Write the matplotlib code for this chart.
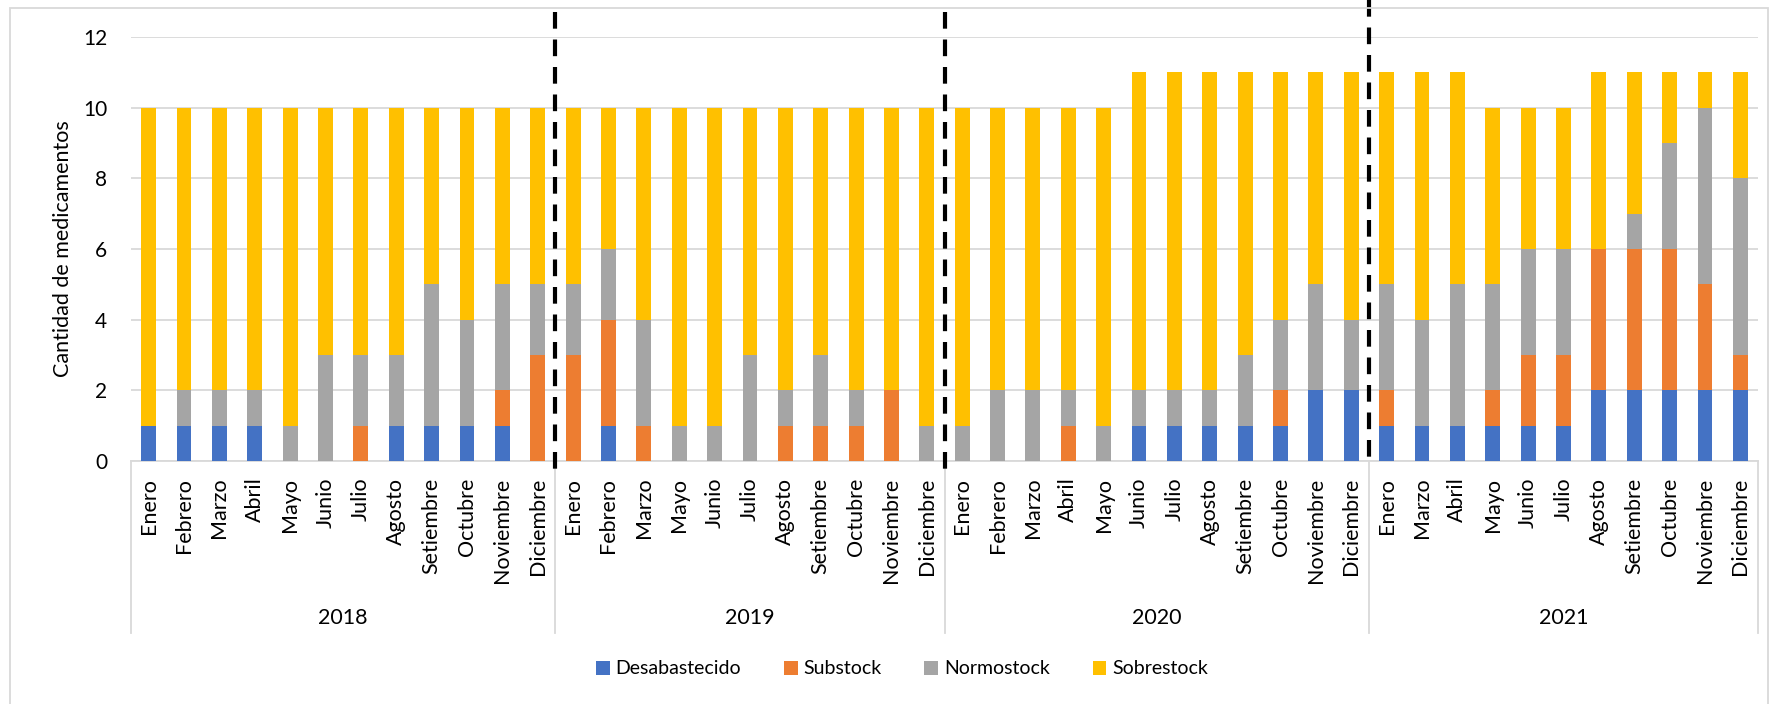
import matplotlib
matplotlib.use("Agg")
import matplotlib.pyplot as plt
import matplotlib.transforms as mtrans
from matplotlib.patches import Rectangle
import numpy as np

plt.rcParams['font.family'] = ['Lato', 'DejaVu Sans']

years = ['2018', '2019', '2020', '2021']
months_2018 = ['Enero', 'Febrero', 'Marzo', 'Abril', 'Mayo', 'Junio', 'Julio', 'Agosto',
               'Setiembre', 'Octubre', 'Noviembre', 'Diciembre']
months_2019 = ['Enero', 'Febrero', 'Marzo', 'Mayo', 'Junio', 'Julio', 'Agosto',
               'Setiembre', 'Octubre', 'Noviembre', 'Diciembre']
months_2020 = months_2018
months_2021 = ['Enero', 'Marzo', 'Abril', 'Mayo', 'Junio', 'Julio', 'Agosto',
               'Setiembre', 'Octubre', 'Noviembre', 'Diciembre']

# values per month, 2018 | 2019 | 2020 | 2021
desabastecido = [1, 1, 1, 1, 0, 0, 0, 1, 1, 1, 1, 0,
                 0, 1, 0, 0, 0, 0, 0, 0, 0, 0, 0,
                 0, 0, 0, 0, 0, 1, 1, 1, 1, 1, 2, 2,
                 1, 1, 1, 1, 1, 1, 2, 2, 2, 2, 2]
substock = [0, 0, 0, 0, 0, 0, 1, 0, 0, 0, 1, 3,
            3, 3, 1, 0, 0, 0, 1, 1, 1, 2, 0,
            0, 0, 0, 1, 0, 0, 0, 0, 0, 1, 0, 0,
            1, 0, 0, 1, 2, 2, 4, 4, 4, 3, 1]
normostock = [0, 1, 1, 1, 1, 3, 2, 2, 4, 3, 3, 2,
              2, 2, 3, 1, 1, 3, 1, 2, 1, 0, 1,
              1, 2, 2, 1, 1, 1, 1, 1, 2, 2, 3, 2,
              3, 3, 4, 3, 3, 3, 0, 1, 3, 5, 5]
sobrestock = [9, 8, 8, 8, 9, 7, 7, 7, 5, 6, 5, 5,
              5, 4, 6, 9, 9, 7, 8, 7, 8, 8, 9,
              9, 8, 8, 8, 9, 9, 9, 9, 8, 7, 6, 7,
              6, 7, 6, 5, 4, 4, 5, 4, 2, 1, 3]

series = [('Desabastecido', desabastecido, '#4472C4'),
          ('Substock', substock, '#ED7D31'),
          ('Normostock', normostock, '#A5A5A5'),
          ('Sobrestock', sobrestock, '#FFC000')]

month_labels = months_2018 + months_2019 + months_2020 + months_2021
group_sizes = [len(months_2018), len(months_2019), len(months_2020), len(months_2021)]
x = np.arange(len(month_labels))

fig = plt.figure(figsize=(17.73, 7.04), dpi=100)
ax = fig.add_axes([131 / 1773, 1 - 461 / 704, 1627 / 1773, 424 / 704])

bottom = np.zeros(len(x))
for name, vals, color in series:
    vals = np.array(vals)
    ax.bar(x, vals, 0.42, bottom=bottom, color=color, label=name, zorder=3)
    bottom += vals

ax.set_xlim(-0.5, len(x) - 0.5)
ax.set_ylim(0, 12)
ax.set_yticks(range(0, 13, 2))
ax.grid(axis='y', color='#D9D9D9', linewidth=1.3, zorder=0)
for s in ['top', 'right', 'left']:
    ax.spines[s].set_visible(False)
ax.spines['bottom'].set_color('#D9D9D9')
ax.spines['bottom'].set_linewidth(1.3)
ax.tick_params(axis='y', length=0, labelsize=15, pad=17)
ax.set_xticks(x)
ax.set_xticklabels(month_labels, rotation=90, fontsize=15.5)
ax.tick_params(axis='x', length=0, pad=12)
ax.set_ylabel('Cantidad de medicamentos', fontsize=15.5, labelpad=7)

# year group labels and separators
trans = mtrans.blended_transform_factory(ax.transData, ax.transAxes)
edges = np.concatenate([[0], np.cumsum(group_sizes)]) - 0.5
for e in edges:
    ax.plot([e, e], [0, -0.406], transform=trans, color='#D9D9D9', lw=1.3, clip_on=False)
for i, yr in enumerate(years):
    ax.text((edges[i] + edges[i + 1]) / 2, -0.37, yr, transform=trans,
            ha='center', va='center', fontsize=15.5)

# dashed dividers between years (drawn shapes in the original)
tops = [1 + 25 / 424, 1 + 25 / 424, 1 + 37 / 424]
ends = [-12 / 424, -12 / 424, -4 / 424]
for e, t, b in zip(edges[1:-1], tops, ends):
    ax.plot([e, e], [t, b], transform=trans, color='black', lw=3,
            ls=(0, (4, 2.6)), clip_on=False, zorder=5)

ax.legend(loc='center', bbox_to_anchor=(902 / 1773, 1 - 669 / 704), bbox_transform=fig.transFigure,
          ncol=4, frameon=False, fontsize=14, handlelength=0.7, handleheight=0.7,
          columnspacing=2.2, handletextpad=0.3)

fig.patches.append(Rectangle((10 / 1773, -0.05), 1758 / 1773, 1 - 8 / 704 + 0.05,
                             transform=fig.transFigure, fill=False, edgecolor='#D9D9D9', lw=1.3))

fig.savefig('out.png', dpi=100)
